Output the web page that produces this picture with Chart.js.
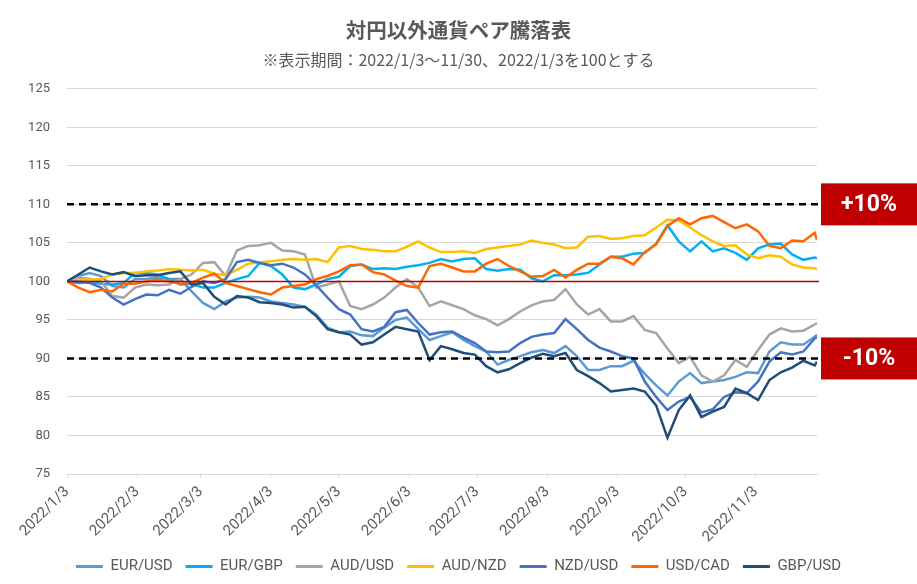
<!DOCTYPE html>
<html lang="ja">
<head>
<meta charset="UTF-8">
<title>対円以外通貨ペア騰落表</title>
<script src="https://cdn.jsdelivr.net/npm/chart.js@4.4.0/dist/chart.umd.min.js"></script>
<style>
  html, body { margin: 0; padding: 0; background: #fff; }
</style>
</head>
<body>
<canvas id="chart" width="917" height="584"></canvas>
<script>
// ===== データ（2022/1/3 = 100、5日おきの読み取り値） =====
const dates = [
  '2022/1/3', '2022/1/8', '2022/1/13', '2022/1/18', '2022/1/23', '2022/1/28',
  '2022/2/2', '2022/2/7', '2022/2/12', '2022/2/17', '2022/2/22', '2022/2/27',
  '2022/3/4', '2022/3/9', '2022/3/14', '2022/3/19', '2022/3/24', '2022/3/29',
  '2022/4/3', '2022/4/8', '2022/4/13', '2022/4/18', '2022/4/23', '2022/4/28',
  '2022/5/3', '2022/5/8', '2022/5/13', '2022/5/18', '2022/5/23', '2022/5/28',
  '2022/6/2', '2022/6/7', '2022/6/12', '2022/6/17', '2022/6/22', '2022/6/27',
  '2022/7/2', '2022/7/7', '2022/7/12', '2022/7/17', '2022/7/22', '2022/7/27',
  '2022/8/1', '2022/8/6', '2022/8/11', '2022/8/16', '2022/8/21', '2022/8/26', '2022/8/31',
  '2022/9/5', '2022/9/10', '2022/9/15', '2022/9/20', '2022/9/25', '2022/9/30',
  '2022/10/5', '2022/10/10', '2022/10/15', '2022/10/20', '2022/10/25', '2022/10/30',
  '2022/11/4', '2022/11/9', '2022/11/14', '2022/11/19', '2022/11/24', '2022/11/29', '2022/11/30'
];

// 軸の目盛り（毎月3日）
const tickDates = [
  '2022/1/3', '2022/2/3', '2022/3/3', '2022/4/3', '2022/5/3', '2022/6/3',
  '2022/7/3', '2022/8/3', '2022/9/3', '2022/10/3', '2022/11/3'
];

const eurUsd = [
  100, 100.7, 101.1, 100.7, 99.4, 99.2, 100.3, 100.3, 100.5, 100.3, 100.3, 98.7,
  97.2, 96.4, 97.4, 97.9, 98.0, 97.9, 97.4, 97.2, 97.0, 96.7, 95.7, 94.0,
  93.4, 93.5, 93.0, 92.9, 94.0, 95.0, 95.3, 93.8, 92.4, 92.9, 93.4, 92.4,
  91.6, 90.9, 89.2, 89.8, 90.3, 90.8, 91.1, 90.7, 91.6, 90.3, 88.5, 88.5, 89.0,
  89.0, 89.7, 88.0, 86.5, 85.2, 87.0, 88.1, 86.8, 87.0, 87.2, 87.6, 88.2,
  88.1, 90.9, 92.1, 91.8, 91.8, 92.8, 93.1
];
const eurGbp = [
  100, 99.8, 99.9, 99.7, 99.6, 99.8, 101.1, 101.1, 100.9, 100.3, 99.6, 99.7,
  99.2, 99.2, 99.8, 100.3, 100.7, 102.4, 102.0, 100.9, 99.2, 99.0, 99.6, 100.3,
  100.6, 102.0, 102.2, 101.6, 101.7, 101.6, 101.9, 102.1, 102.4, 102.9, 102.6, 102.9,
  103.0, 101.6, 101.4, 101.6, 101.5, 100.4, 100.0, 100.8, 100.8, 100.9, 101.1, 102.2, 103.2,
  103.2, 103.6, 103.7, 104.9, 107.3, 105.2, 103.9, 105.2, 103.9, 104.3, 103.7, 102.8,
  104.3, 104.8, 104.9, 103.5, 102.8, 103.1, 103.0
];
const audUsd = [
  100, 100.5, 100.3, 100.0, 98.1, 97.9, 99.2, 99.6, 99.5, 99.6, 100.3, 100.9,
  102.4, 102.5, 100.7, 104.0, 104.6, 104.7, 105.0, 104.0, 103.9, 103.5, 99.2, 99.6,
  100.0, 96.8, 96.4, 97.0, 97.9, 99.2, 100.3, 99.2, 96.8, 97.4, 96.9, 96.4,
  95.6, 95.1, 94.3, 95.1, 96.1, 96.9, 97.4, 97.6, 99.0, 97.0, 95.7, 96.4, 94.8,
  94.8, 95.5, 93.7, 93.3, 91.3, 89.4, 90.2, 87.8, 87.0, 87.8, 89.8, 88.9,
  91.1, 93.1, 93.9, 93.5, 93.6, 94.4, 94.6
];
const audNzd = [
  100, 100.2, 100.2, 100.3, 100.9, 101.1, 101.1, 101.3, 101.4, 101.6, 101.5, 101.4,
  101.5, 101.0, 100.8, 101.5, 102.3, 102.5, 102.6, 102.8, 102.9, 102.8, 102.9, 102.5,
  104.4, 104.6, 104.2, 104.1, 103.9, 103.9, 104.5, 105.2, 104.4, 103.8, 103.8, 103.9,
  103.7, 104.2, 104.4, 104.6, 104.8, 105.3, 105.0, 104.8, 104.3, 104.4, 105.8, 105.9, 105.5,
  105.6, 105.9, 106.0, 107.0, 108.0, 107.9, 107.0, 106.0, 105.2, 104.6, 104.7, 103.5,
  103.0, 103.4, 103.2, 102.2, 101.8, 101.7, 101.6
];
const nzdUsd = [
  100, 100.0, 99.8, 99.2, 97.9, 97.0, 97.7, 98.3, 98.2, 98.9, 98.4, 99.3,
  100.0, 99.8, 100.3, 102.5, 102.8, 102.4, 102.1, 102.3, 101.8, 100.9, 99.5, 97.9,
  96.4, 95.7, 93.8, 93.5, 94.1, 96.0, 96.3, 94.6, 93.1, 93.4, 93.5, 92.7,
  92.0, 90.9, 90.8, 90.9, 92.0, 92.8, 93.1, 93.3, 95.1, 93.8, 92.4, 91.4, 90.9,
  90.3, 90.0, 87.0, 85.0, 83.3, 84.4, 85.0, 83.0, 83.4, 85.0, 85.6, 85.5,
  87.0, 89.6, 90.8, 90.5, 90.9, 92.6, 92.8
];
const usdCad = [
  100, 99.2, 98.6, 98.9, 98.7, 99.7, 99.7, 100.0, 100.2, 100.0, 99.7, 99.8,
  100.5, 101.0, 99.8, 99.4, 99.0, 98.6, 98.3, 99.2, 99.4, 99.6, 100.3, 100.7,
  101.3, 102.1, 102.2, 101.2, 100.9, 100.1, 99.4, 99.2, 102.0, 102.3, 101.8, 101.3,
  101.3, 102.3, 102.9, 102.0, 101.3, 100.6, 100.7, 101.5, 100.5, 101.5, 102.3, 102.3, 103.2,
  103.0, 102.2, 103.8, 104.8, 107.2, 108.2, 107.4, 108.2, 108.5, 107.7, 106.9, 107.4,
  106.5, 104.6, 104.3, 105.3, 105.2, 106.3, 105.4
];
const gbpUsd = [
  100, 100.9, 101.8, 101.3, 100.9, 101.2, 100.7, 100.8, 100.8, 101.1, 101.3, 99.6,
  99.8, 98.0, 97.0, 98.1, 97.9, 97.3, 97.2, 97.0, 96.6, 96.7, 95.5, 93.8,
  93.4, 93.1, 91.8, 92.1, 93.1, 94.1, 93.8, 93.5, 89.8, 91.6, 91.2, 90.7,
  90.5, 89.0, 88.2, 88.6, 89.4, 90.1, 90.6, 90.3, 90.7, 88.5, 87.7, 86.8, 85.7,
  85.9, 86.1, 85.7, 83.9, 79.7, 83.3, 85.2, 82.4, 83.1, 83.7, 86.1, 85.5,
  84.6, 87.2, 88.2, 88.8, 89.7, 89.1, 89.6
];

const seriesNames = ['EUR/USD', 'EUR/GBP', 'AUD/USD', 'AUD/NZD', 'NZD/USD', 'USD/CAD', 'GBP/USD'];
const seriesValues = [eurUsd, eurGbp, audUsd, audNzd, nzdUsd, usdCad, gbpUsd];
const seriesColors = ['#5b9bd5', '#00b0f0', '#a5a5a5', '#ffc000', '#4472c4', '#ff6600', '#1f4e79'];

// 基準線（100）と ±10% ライン
const baseLevel = 100;
const bandLevels = [110, 90];
const bandLabels = ['+10%', '-10%'];

// ===== ヘルパー =====
// 日付文字列 → 2022/1/3 からの経過日数
const toDay = (s) => {
  const [y, m, d] = s.split('/').map(Number);
  return Math.round((Date.UTC(y, m - 1, d) - Date.UTC(2022, 0, 3)) / 86400000);
};
const tickDays = tickDates.map(toDay);
const lastDay = toDay(dates[dates.length - 1]);

Chart.defaults.font.family = "Roboto, 'Noto Sans CJK JP', sans-serif";
Chart.defaults.color = '#595959';

const datasets = seriesNames.map((name, i) => ({
  label: name,
  data: dates.map((d, j) => ({ x: toDay(d), y: seriesValues[i][j] })),
  borderColor: seriesColors[i],
  backgroundColor: seriesColors[i],
  borderWidth: 2.5,
  pointRadius: 0,
  tension: 0,
  order: seriesNames.length - i // 後の系列ほど前面に
}));

// 基準線・点線・赤ラベルを描くプラグイン
const guidePlugin = {
  id: 'guides',
  afterDatasetsDraw(chart) {
    const { ctx, chartArea: area, scales: { y } } = chart;
    ctx.save();

    const yBase = y.getPixelForValue(baseLevel);
    ctx.strokeStyle = '#c00000';
    ctx.lineWidth = 1.5;
    ctx.beginPath();
    ctx.moveTo(area.left, yBase);
    ctx.lineTo(area.right + 2, yBase);
    ctx.stroke();

    ctx.strokeStyle = '#000000';
    ctx.lineWidth = 2.5;
    ctx.setLineDash([7, 5]);
    bandLevels.forEach(v => {
      const py = y.getPixelForValue(v);
      ctx.beginPath();
      ctx.moveTo(area.left, py);
      ctx.lineTo(area.right + 1, py);
      ctx.stroke();
    });
    ctx.setLineDash([]);

    const boxLeft = area.right + 4;
    bandLevels.forEach((v, i) => {
      const py = y.getPixelForValue(v);
      ctx.fillStyle = '#c00000';
      ctx.fillRect(boxLeft, py - 21, chart.width - boxLeft, 42);
      ctx.fillStyle = '#ffffff';
      ctx.font = "bold 23px Roboto, 'Noto Sans CJK JP', sans-serif";
      ctx.textAlign = 'center';
      ctx.textBaseline = 'middle';
      ctx.fillText(bandLabels[i], (boxLeft + chart.width) / 2, py + 1);
    });
    ctx.restore();
  }
};

new Chart(document.getElementById('chart'), {
  type: 'line',
  data: { datasets },
  plugins: [guidePlugin],
  options: {
    responsive: false,
    animation: false,
    layout: { padding: 0 },
    scales: {
      x: {
        type: 'linear',
        min: 0,
        max: lastDay,
        afterBuildTicks: (scale) => { scale.ticks = tickDays.map(v => ({ value: v })); },
        afterFit: (scale) => { scale.height = 72; },
        ticks: {
          callback: (v) => tickDates[tickDays.indexOf(v)],
          autoSkip: false,
          minRotation: 45,
          maxRotation: 45,
          padding: 5,
          font: { size: 15 },
          color: '#595959'
        },
        grid: { drawOnChartArea: false, drawTicks: true, tickLength: 4, color: '#d9d9d9' },
        border: { display: true, color: '#d9d9d9' }
      },
      y: {
        min: 75,
        max: 125,
        afterFit: (scale) => { scale.width = 67; },
        ticks: { stepSize: 5, padding: 17, font: { size: 13 }, color: '#595959' },
        grid: { color: '#d9d9d9', drawTicks: false },
        border: { display: false }
      },
      // 右側の余白（±10% ラベル用）
      yRight: {
        position: 'right',
        min: 75,
        max: 125,
        afterFit: (scale) => { scale.width = 100; },
        ticks: { display: false },
        grid: { display: false, drawTicks: false },
        border: { display: false }
      }
    },
    plugins: {
      title: {
        display: true,
        text: '対円以外通貨ペア騰落表',
        color: '#595959',
        font: { family: "'Noto Sans CJK JP', sans-serif", size: 20.5, weight: 'bold' },
        padding: { top: 18, bottom: 5 }
      },
      subtitle: {
        display: true,
        text: '※表示期間：2022/1/3〜11/30、2022/1/3を100とする',
        color: '#595959',
        font: { family: "'Noto Sans CJK JP', sans-serif", size: 16 },
        padding: { top: 3, bottom: 19 }
      },
      legend: {
        position: 'bottom',
        labels: {
          boxWidth: 27,
          boxHeight: 3,
          padding: 13,
          color: '#595959',
          font: { size: 15 },
          sort: (a, b) => a.datasetIndex - b.datasetIndex,
          generateLabels: (chart) => {
            const items = Chart.defaults.plugins.legend.labels.generateLabels(chart);
            items.forEach(it => { it.lineWidth = 0; it.fillStyle = it.strokeStyle; });
            return items;
          }
        }
      },
      tooltip: { enabled: false }
    }
  }
});
</script>
</body>
</html>
